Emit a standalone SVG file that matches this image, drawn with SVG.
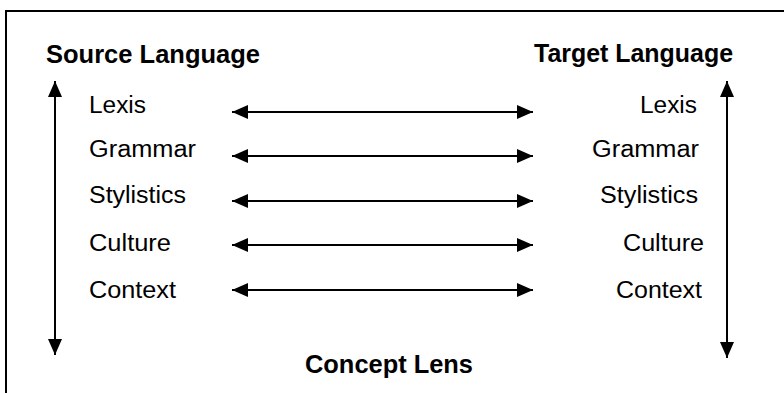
<svg xmlns="http://www.w3.org/2000/svg" width="784" height="393" viewBox="0 0 784 393">
<defs>
<marker id="ah" viewBox="0 0 16 14" refX="16" refY="7" markerWidth="16" markerHeight="14" markerUnits="userSpaceOnUse" orient="auto-start-reverse">
<path d="M0,0 L16,7 L0,14 Z" fill="#000"/>
</marker>
<style>
.t{font-family:"Liberation Sans",Arial,sans-serif;font-size:23px;fill:#000}
.b{font-family:"Liberation Sans",Arial,sans-serif;font-size:26px;font-weight:bold;fill:#000}
.c{stroke:#000;stroke-width:2;fill:none}
</style>
</defs>
<rect width="784" height="393" fill="#fff"/>
<g id="frame">
<path class="c" d="M784,11 H6 V393"/>
</g>
<g id="titles">
<text id="source-language" class="b" x="46" y="63" textLength="214" lengthAdjust="spacingAndGlyphs">Source Language</text>
<text id="target-language" class="b" x="534" y="62" textLength="199" lengthAdjust="spacingAndGlyphs">Target Language</text>
<text id="concept-lens" class="b" x="305" y="373" textLength="168" lengthAdjust="spacingAndGlyphs">Concept Lens</text>
</g>
<g id="source">
<text class="t" x="89" y="113" textLength="57" lengthAdjust="spacingAndGlyphs">Lexis</text>
<text class="t" x="89" y="157" textLength="107" lengthAdjust="spacingAndGlyphs">Grammar</text>
<text class="t" x="89" y="203" textLength="97" lengthAdjust="spacingAndGlyphs">Stylistics</text>
<text class="t" x="89" y="251" textLength="82" lengthAdjust="spacingAndGlyphs">Culture</text>
<text class="t" x="89" y="298" textLength="87" lengthAdjust="spacingAndGlyphs">Context</text>
</g>
<g id="target">
<text class="t" x="640" y="113" textLength="57" lengthAdjust="spacingAndGlyphs">Lexis</text>
<text class="t" x="592" y="157" textLength="107" lengthAdjust="spacingAndGlyphs">Grammar</text>
<text class="t" x="600" y="203" textLength="98" lengthAdjust="spacingAndGlyphs">Stylistics</text>
<text class="t" x="623" y="251" textLength="81" lengthAdjust="spacingAndGlyphs">Culture</text>
<text class="t" x="616" y="298" textLength="86" lengthAdjust="spacingAndGlyphs">Context</text>
</g>
<g id="connectors">
<line class="c" x1="55" y1="81" x2="55" y2="355" marker-start="url(#ah)" marker-end="url(#ah)"/>
<line class="c" x1="727" y1="81" x2="727" y2="358" marker-start="url(#ah)" marker-end="url(#ah)"/>
<line class="c" x1="232" y1="112" x2="533" y2="112" marker-start="url(#ah)" marker-end="url(#ah)"/>
<line class="c" x1="232" y1="156" x2="533" y2="156" marker-start="url(#ah)" marker-end="url(#ah)"/>
<line class="c" x1="232" y1="201" x2="533" y2="201" marker-start="url(#ah)" marker-end="url(#ah)"/>
<line class="c" x1="232" y1="245" x2="533" y2="245" marker-start="url(#ah)" marker-end="url(#ah)"/>
<line class="c" x1="232" y1="290" x2="533" y2="290" marker-start="url(#ah)" marker-end="url(#ah)"/>
</g>
</svg>
